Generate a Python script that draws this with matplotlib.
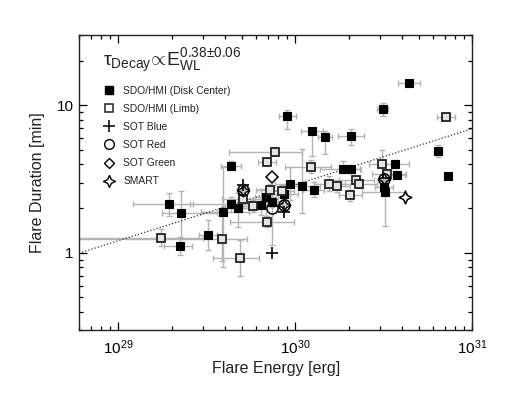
import numpy as np
import matplotlib
matplotlib.use("Agg")
import matplotlib.pyplot as plt
from matplotlib.path import Path
from matplotlib.lines import Line2D

plt.rcParams['font.family'] = ['Liberation Sans', 'DejaVu Sans']
plt.rcParams['mathtext.fontset'] = 'custom'
plt.rcParams['mathtext.rm'] = 'Liberation Sans'
plt.rcParams['mathtext.it'] = 'Liberation Sans:italic'
plt.rcParams['mathtext.bf'] = 'Liberation Sans:bold'

# ---- data: flare energy [erg], duration [min], errors in dex (lo, hi) ----
dc_E = [4.39e30, 9.02e29, 1.24e30, 1.47e30, 2.06e30, 3.11e30, 6.40e30, 7.28e30,
        1.86e30, 2.06e30, 3.66e30, 3.75e30, 3.17e30, 3.23e30, 1.27e30, 1.09e30,
        9.29e29, 8.59e29, 7.38e29, 6.82e29, 6.40e29, 4.33e29, 1.93e29, 2.27e29,
        3.21e29, 2.22e29, 3.88e29, 4.33e29, 4.76e29]
dc_t = [14.2, 8.5, 6.67, 6.14, 6.2, 9.4, 4.9, 3.3,
        3.73, 3.70, 4.0, 3.37, 2.80, 2.58, 2.68, 2.84,
        2.95, 2.49, 2.20, 2.40, 2.12, 3.90, 2.15, 1.87,
        1.32, 1.11, 1.88, 2.14, 2.03]
dc_xlo = [0.06, 0.05, 0.064, 0.04, 0.073, 0.03, 0.02, 0.0, 0.13, 0.05, 0.08, 0.045, 0.05, 0.13,
          0.06, 0.10, 0.08, 0.08, 0.06, 0.06, 0.06, 0.056, 0.20, 0.11, 0.05, 0.09, 0.12, 0.23, 0.09]
dc_xhi = [0.06, 0.05, 0.064, 0.04, 0.073, 0.03, 0.02, 0.0, 0.10, 0.05, 0.08, 0.045, 0.05, 0.11,
          0.06, 0.10, 0.08, 0.08, 0.06, 0.06, 0.06, 0.056, 0.135, 0.20, 0.05, 0.07, 0.15, 0.10, 0.09]
dc_ylo = [0.02, 0.09, 0.17, 0.12, 0.06, 0.044, 0.04, 0.0, 0.03, 0.03, 0.03, 0.02, 0.03, 0.23,
          0.05, 0.18, 0.11, 0.03, 0.03, 0.13, 0.07, 0.03, 0.08, 0.18, 0.10, 0.06, 0.37, 0.05, 0.135]
dc_yhi = [0.02, 0.04, 0.02, 0.04, 0.045, 0.044, 0.04, 0.0, 0.05, 0.03, 0.03, 0.02, 0.03, 0.08,
          0.05, 0.25, 0.11, 0.03, 0.03, 0.05, 0.11, 0.03, 0.073, 0.15, 0.10, 0.06, 0.31, 0.05, 0.10]

lb_E = [7.10e30, 7.71e29, 6.92e29, 1.23e30, 3.08e30, 3.28e30, 1.56e30, 1.73e30,
        2.21e30, 2.29e30, 2.04e30, 7.19e29, 8.39e29, 6.92e29, 5.06e29, 5.75e29,
        4.84e29, 1.74e29, 3.85e29]
lb_t = [8.4, 4.86, 4.10, 3.85, 4.03, 3.42, 2.95, 2.85,
        3.10, 2.94, 2.45, 2.67, 2.62, 1.63, 2.33, 2.09,
        0.925, 1.27, 1.24]
lb_xlo = [0.05, 0.26, 0.05, 0.15, 0.07, 0.085, 0.09, 0.07, 0.10, 0.10, 0.065, 0.08, 0.07, 0.21,
          0.12, 0.06, 0.15, 0.60, 0.90]
lb_xhi = [0.05, 0.15, 0.05, 0.11, 0.07, 0.11, 0.09, 0.07, 0.10, 0.10, 0.065, 0.08, 0.07, 0.15,
          0.20, 0.06, 0.11, 0.24, 0.14]
lb_ylo = [0.02, 0.03, 0.02, 0.045, 0.10, 0.03, 0.05, 0.04, 0.03, 0.03, 0.04, 0.04, 0.04, 0.04,
          0.06, 0.04, 0.12, 0.06, 0.15]
lb_yhi = [0.02, 0.03, 0.02, 0.045, 0.09, 0.03, 0.05, 0.04, 0.03, 0.03, 0.04, 0.04, 0.04, 0.04,
          0.10, 0.04, 0.12, 0.06, 0.19]

blue_E = [5.06e29, 8.63e29, 7.38e29]
blue_t = [2.90, 1.88, 1.00]
red_E = [5.06e29, 7.41e29, 8.63e29, 3.155e30]
red_t = [2.65, 2.01, 2.12, 3.19]
red_ylo = [0.0, 0.25, 0.0, 0.0]
red_yhi = [0.0, 0.14, 0.0, 0.0]
green_E = [7.41e29]
green_t = [3.26]
smart_E = [4.18e30, 5.06e29, 8.63e29, 3.155e30]
smart_t = [2.41, 2.65, 2.12, 3.19]

fit_index = 0.38
fit_norm = 2.9   # tau at 1e30 erg
fit_E = [6e28, 1e31]

# --------------------------------------------------------------------------
fig = plt.figure(figsize=(5.13, 3.97), dpi=100)
ax = fig.add_axes([0.154, 0.1688, 0.7667, 0.743])
ax.set_xscale('log')
ax.set_yscale('log')

ecol = '#b4b4b4'

def errs(v, lo, hi):
    v = np.asarray(v, float)
    return np.vstack([v - v * 10 ** (-np.asarray(lo)), v * 10 ** np.asarray(hi) - v])

ax.errorbar(lb_E, lb_t, xerr=errs(lb_E, lb_xlo, lb_xhi), yerr=errs(lb_t, lb_ylo, lb_yhi),
            fmt='none', ecolor=ecol, elinewidth=1.0, capsize=2.5, capthick=1.0, zorder=1)
ax.errorbar(dc_E, dc_t, xerr=errs(dc_E, dc_xlo, dc_xhi), yerr=errs(dc_t, dc_ylo, dc_yhi),
            fmt='none', ecolor=ecol, elinewidth=1.0, capsize=2.5, capthick=1.0, zorder=1)
ax.errorbar(red_E, red_t, yerr=errs(red_t, red_ylo, red_yhi),
            fmt='none', ecolor=ecol, elinewidth=1.0, capsize=2.5, capthick=1.0, zorder=1)

# fit line
fE = np.array(fit_E)
ax.plot(fE, fit_norm * (fE / 1e30) ** fit_index, ls=(0, (1, 1.6)), color='#333333', lw=0.9, zorder=2)

# star marker
ang = np.linspace(0, 2 * np.pi, 9)[:-1] + np.pi / 2
rad = np.array([1.0, 0.45] * 4)
star_verts = np.column_stack([rad * np.cos(ang), rad * np.sin(ang)])
star_verts = np.vstack([star_verts, star_verts[:1]])
star = Path(star_verts, closed=True)

ms_sq = 5.8
ax.plot(dc_E, dc_t, 's', ms=ms_sq, mfc='black', mec='black', mew=0.8, ls='none', zorder=4)
ax.plot(lb_E, lb_t, 's', ms=ms_sq, mfc='#e4e4e4', mec='#222222', mew=1.3, ls='none', zorder=4)
ax.plot(blue_E, blue_t, '+', ms=8, mec='black', mew=1.2, ls='none', zorder=5)
ax.plot(red_E, red_t, 'o', ms=8, mfc='none', mec='black', mew=1.1, ls='none', zorder=5)
ax.plot(green_E, green_t, 'D', ms=6, mfc='none', mec='black', mew=1.1, ls='none', zorder=5)
ax.plot(smart_E, smart_t, marker=star, ms=9, mfc='none', mec='black', mew=1.1, ls='none', zorder=5)

ax.set_xlim(6e28, 1e31)
ax.set_ylim(0.3, 30)

ax.set_xticks([1e29, 1e30, 1e31])
ax.set_yticks([1, 10])
ax.set_yticklabels(['1', '10'])
ax.tick_params(which='both', direction='in', top=True, right=True, labelsize=11, width=0.9)
ax.tick_params(which='major', length=6)
ax.tick_params(which='minor', length=3)
ax.tick_params(axis='x', pad=6)
ax.tick_params(axis='y', pad=4)
for s in ax.spines.values():
    s.set_linewidth(1.0)
    s.set_color('#222222')

ax.set_xlabel('Flare Energy [erg]', fontsize=11.5, color='#222222', labelpad=3)
ax.set_ylabel('Flare Duration [min]', fontsize=11.5, color='#222222', labelpad=8)

ax.text(0.06, 0.893, r'$\mathrm{\tau}_{\rm Decay}\!\propto\!{\rm E}_{\rm WL}^{\rm 0.38{\pm}0.06}$',
        transform=ax.transAxes, fontsize=14, color='#222222', ha='left', va='baseline')

handles = [
    Line2D([], [], marker='s', ms=ms_sq, mfc='black', mec='black', ls='none'),
    Line2D([], [], marker='s', ms=ms_sq, mfc='white', mec='#222222', mew=1.1, ls='none'),
    Line2D([], [], marker='+', ms=8, mec='black', mew=1.1, ls='none'),
    Line2D([], [], marker='o', ms=7, mfc='none', mec='black', mew=1.0, ls='none'),
    Line2D([], [], marker='D', ms=5.5, mfc='none', mec='black', mew=1.0, ls='none'),
    Line2D([], [], marker=star, ms=8.5, mfc='none', mec='black', mew=1.0, ls='none'),
]
labels = ['SDO/HMI (Disk Center)', 'SDO/HMI (Limb)', 'SOT Blue', 'SOT Red', 'SOT Green', 'SMART']
leg = ax.legend(handles, labels, loc='upper left', bbox_to_anchor=(0.05, 0.842), frameon=False,
                fontsize=7.4, labelspacing=0.79, handletextpad=0.8, handlelength=1.2,
                borderaxespad=0.0, labelcolor='#222222')

fig.savefig('out.png', dpi=100)
